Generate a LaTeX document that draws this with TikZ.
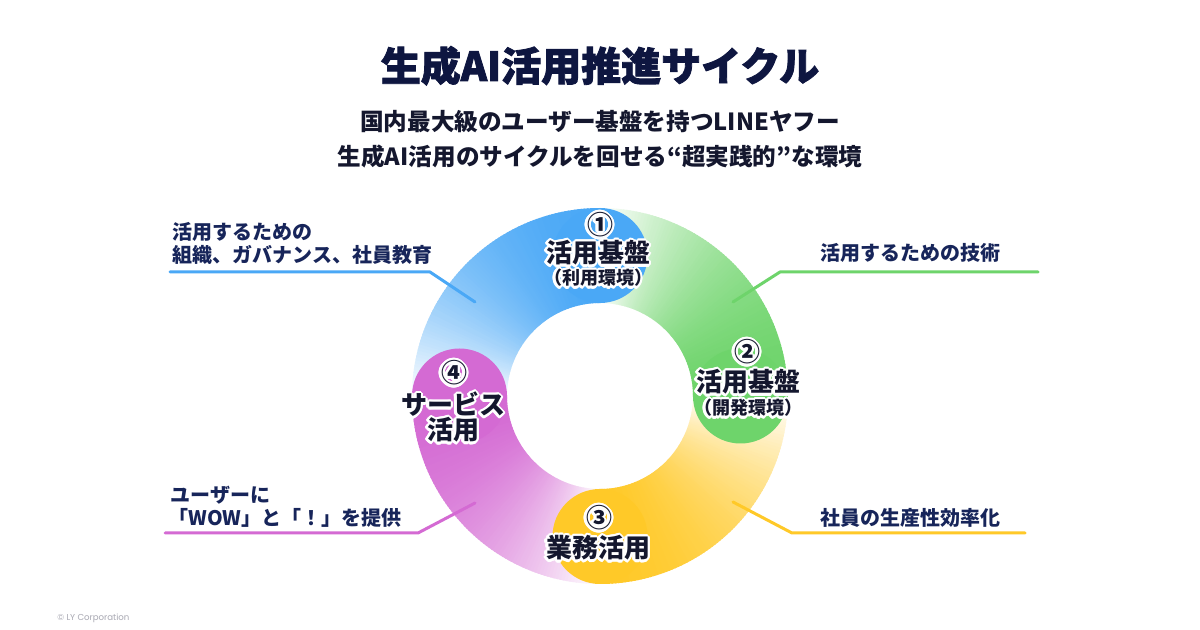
\documentclass[tikz,border=0pt]{standalone}
\usepackage{fontspec}
\setmainfont{Noto Sans CJK JP}
\newfontfamily\heavyfont{Noto Sans CJK JP}[BoldFeatures={FakeBold=2}]
\newfontfamily\copyfont{Poppins}
\definecolor{navy}{HTML}{17255A}
\definecolor{titlenavy}{HTML}{0E1640}
\definecolor{inkdark}{HTML}{14172E}
\definecolor{cblue}{HTML}{4AA8F6}
\definecolor{cgreen}{HTML}{6ED46B}
\definecolor{cyellow}{HTML}{FFC928}
\definecolor{cpurple}{HTML}{D46AD3}
\definecolor{cgray}{HTML}{A9A9B3}

\newcommand\halotext[1]{%
  \leavevmode
  \foreach \hang in {0,22.5,...,337.5}{%
    \pgfmathsetlengthmacro\hdx{1.2pt*cos(\hang)}%
    \pgfmathsetlengthmacro\hdy{1.2pt*sin(\hang)}%
    \rlap{\kern\hdx\raisebox{\hdy}{\textcolor{white}{#1}}}%
  }%
  #1}

\def\cx{600}\def\cy{396}\def\Ro{188}\def\Ri{93}
\newcommand\ringarc[3]{%
  \foreach \i in {0,...,89}{%
    \pgfmathsetmacro\angA{#1+(#2-#1)*\i/90}%
    \pgfmathsetmacro\angB{#1+(#2-#1)*(\i+1.5)/90}%
    \pgfmathtruncatemacro\pcv{100*(1-(1-(\i+0.5)/90)^2)}%
    \fill[#3!\pcv!white] ({\cx+\Ro*cos(\angA)},{\cy-\Ro*sin(\angA)}) -- ({\cx+\Ro*cos(\angB)},{\cy-\Ro*sin(\angB)}) -- ({\cx+\Ri*cos(\angB)},{\cy-\Ri*sin(\angB)}) -- ({\cx+\Ri*cos(\angA)},{\cy-\Ri*sin(\angA)}) -- cycle;
  }}

\tikzset{
  lbl/.style={inner sep=0, anchor=base west, text=navy, font=\fontsize{10pt}{12pt}\selectfont\bfseries},
  leader/.style={line width=1.5pt, line join=round, line cap=round},
  bignum/.style={inner sep=0, anchor=base, text=inkdark, font=\fontsize{13pt}{15pt}\selectfont\bfseries},
  bigtxt/.style={inner sep=0, anchor=base, text=inkdark, font=\fontsize{13pt}{15pt}\selectfont\bfseries},
  smalltxt/.style={inner sep=0, anchor=base, text=inkdark, font=\fontsize{9pt}{11pt}\selectfont\bfseries},
  subtitle/.style={inner sep=0, anchor=base, text=inkdark, font=\fontsize{11.8pt}{14pt}\selectfont\bfseries},
}

\begin{document}
\begin{tikzpicture}[x=0.5pt,y=-0.5pt]
\useasboundingbox (0,0) rectangle (1200,630);
\fill[white] (0,0) rectangle (1200,630);

% ring segments (visual angles, clockwise = decreasing)
\ringarc{180}{90}{cblue}
\ringarc{90}{0}{cgreen}
\ringarc{0}{-90}{cyellow}
\ringarc{-90}{-180}{cpurple}
% rounded ends
\fill[cblue] (600,255.5) circle[radius=47.5];
\fill[cgreen] (740.5,396) circle[radius=47.5];
\fill[cyellow] (600,536.5) circle[radius=47.5];
\fill[cpurple] (459.5,396) circle[radius=47.5];

% leader lines
\coordinate (b1) at (475,302); \coordinate (b2) at (430,272); \coordinate (b3) at (170,272);
\coordinate (g1) at (733,302); \coordinate (g2) at (780,272); \coordinate (g3) at (1038,272);
\coordinate (y1) at (733,502); \coordinate (y2) at (792,533); \coordinate (y3) at (1025,533);
\coordinate (p1) at (475,503); \coordinate (p2) at (418,533); \coordinate (p3) at (165,533);
\draw[leader,cblue] (b1) -- (b2) -- (b3);
\draw[leader,cgreen] (g1) -- (g2) -- (g3);
\draw[leader,cyellow] (y1) -- (y2) -- (y3);
\draw[leader,cpurple] (p1) -- (p2) -- (p3);

% title
\node[inner sep=0, anchor=base, text=titlenavy, font=\fontsize{20pt}{24pt}\heavyfont\bfseries] (title) at (600,81) {生成AI活用推進サイクル};
\node[subtitle] (sub1) at (600,131) {国内最大級のユーザー基盤を持つLINEヤフー};
\node[subtitle] (sub2) at (600,166) {生成AI活用のサイクルを回せる“超実践的”な環境};

% side labels
\node[lbl] (l1a) at (172,240) {活用するための};
\node[lbl] (l1b) at (172,263) {組織、ガバナンス、社員教育};
\node[lbl] (l2) at (820,261) {活用するための技術};
\node[lbl] (l3) at (820,526) {社員の生産性効率化};
\node[lbl] (l4a) at (170,503) {ユーザーに};
\node[lbl] (l4b) at (168,526) {「WOW」と「！」を提供};

% blob texts
\node[smalltxt] (s1b) at (598,285) {\halotext{（利用環境）}};
\node[bigtxt] (s1a) at (598,263) {\halotext{活用基盤}};
\node[bignum] (s1n) at (600,235) {\halotext{①}};

\node[smalltxt] (s2b) at (748,415) {\halotext{（開発環境）}};
\node[bigtxt] (s2a) at (748,392) {\halotext{活用基盤}};
\node[bignum] (s2n) at (747,362) {\halotext{②}};

\node[bigtxt] (s3a) at (598,558) {\halotext{業務活用}};
\node[bignum] (s3n) at (599,528) {\halotext{③}};

\node[bigtxt] (s4b) at (453,440) {\halotext{活用}};
\node[bigtxt] (s4a) at (453,415) {\halotext{サービス}};
\node[bignum] (s4n) at (454,383) {\halotext{④}};

% copyright
\node[inner sep=0, anchor=base west, text=cgray, font=\fontsize{4.3pt}{6pt}\copyfont] (copy) at (57,620) {© LY Corporation};
\end{tikzpicture}
\end{document}
